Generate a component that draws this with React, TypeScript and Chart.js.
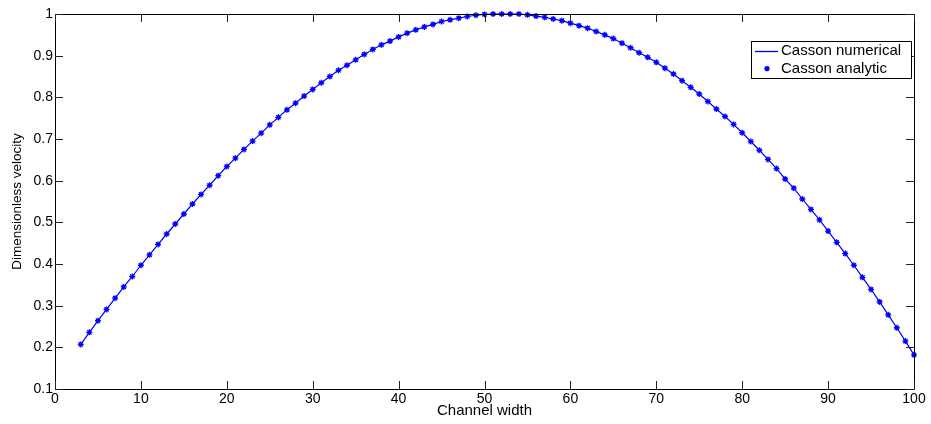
import React, { useEffect, useRef } from "react";
import { Chart, registerables } from "chart.js";

Chart.register(...registerables);

// Channel width positions (x)
const channelX = [
  3, 4, 5, 6, 7, 8, 9, 10, 11, 12, 13, 14, 15, 16, 17, 18, 19, 20, 21, 22,
  23, 24, 25, 26, 27, 28, 29, 30, 31, 32, 33, 34, 35, 36, 37, 38, 39, 40, 41, 42,
  43, 44, 45, 46, 47, 48, 49, 50, 51, 52, 53, 54, 55, 56, 57, 58, 59, 60, 61, 62,
  63, 64, 65, 66, 67, 68, 69, 70, 71, 72, 73, 74, 75, 76, 77, 78, 79, 80, 81, 82,
  83, 84, 85, 86, 87, 88, 89, 90, 91, 92, 93, 94, 95, 96, 97, 98, 99, 100,
];

// Casson numerical (solid line)
const numericalVelocity = [
  0.207, 0.236, 0.264, 0.291, 0.318, 0.345, 0.370, 0.397, 0.422, 0.447,
  0.472, 0.496, 0.520, 0.544, 0.567, 0.589, 0.612, 0.634, 0.654, 0.675,
  0.695, 0.714, 0.734, 0.752, 0.770, 0.786, 0.803, 0.819, 0.835, 0.850,
  0.865, 0.877, 0.890, 0.903, 0.915, 0.926, 0.935, 0.945, 0.954, 0.962,
  0.969, 0.975, 0.982, 0.986, 0.990, 0.994, 0.997, 0.999, 1.000, 1.000,
  1.000, 1.000, 0.998, 0.995, 0.992, 0.988, 0.984, 0.978, 0.972, 0.966,
  0.958, 0.950, 0.941, 0.930, 0.919, 0.907, 0.896, 0.884, 0.870, 0.856,
  0.840, 0.824, 0.808, 0.790, 0.772, 0.754, 0.735, 0.715, 0.694, 0.673,
  0.651, 0.629, 0.604, 0.582, 0.556, 0.531, 0.506, 0.479, 0.452, 0.425,
  0.397, 0.368, 0.339, 0.309, 0.278, 0.247, 0.215, 0.182,
];

// Casson analytic (star markers)
const analyticVelocity = [
  0.207, 0.236, 0.264, 0.291, 0.318, 0.345, 0.370, 0.397, 0.422, 0.447,
  0.472, 0.496, 0.520, 0.544, 0.567, 0.589, 0.612, 0.634, 0.654, 0.675,
  0.695, 0.714, 0.734, 0.752, 0.770, 0.786, 0.803, 0.819, 0.835, 0.850,
  0.865, 0.877, 0.890, 0.903, 0.915, 0.926, 0.935, 0.945, 0.954, 0.962,
  0.969, 0.975, 0.982, 0.986, 0.990, 0.994, 0.997, 0.999, 1.000, 1.000,
  1.000, 1.000, 0.998, 0.995, 0.992, 0.988, 0.984, 0.978, 0.972, 0.966,
  0.958, 0.950, 0.941, 0.930, 0.919, 0.907, 0.896, 0.884, 0.870, 0.856,
  0.840, 0.824, 0.808, 0.790, 0.772, 0.754, 0.735, 0.715, 0.694, 0.673,
  0.651, 0.629, 0.604, 0.582, 0.556, 0.531, 0.506, 0.479, 0.452, 0.425,
  0.397, 0.368, 0.339, 0.309, 0.278, 0.247, 0.215, 0.182,
];

const seriesLabels = ["Casson numerical", "Casson analytic"];
const xTitle = "Channel width";
const yTitle = "Dimensionless velocity";

const FONT = "'Liberation Sans', Arial, Helvetica, sans-serif";
const BLUE = "#0000ff";

const boxTicksPlugin = {
  id: "boxTicks",
  afterDraw(chart: any) {
    const { ctx, chartArea, scales } = chart;
    const { left, right, top, bottom } = chartArea;
    const len = 8;
    ctx.save();
    ctx.strokeStyle = "#000";
    ctx.lineWidth = 1;
    ctx.beginPath();
    ctx.rect(left + 0.5, top + 0.5, right - left, bottom - top);
    ctx.stroke();
    ctx.strokeStyle = "#222";
    ctx.beginPath();
    scales.x.ticks.forEach((t: any) => {
      const px = Math.round(scales.x.getPixelForValue(t.value)) + 0.5;
      ctx.moveTo(px, bottom);
      ctx.lineTo(px, bottom - len);
      ctx.moveTo(px, top);
      ctx.lineTo(px, top + len);
    });
    scales.y.ticks.forEach((t: any) => {
      const py = Math.round(scales.y.getPixelForValue(t.value)) + 0.5;
      ctx.moveTo(left, py);
      ctx.lineTo(left + len, py);
      ctx.moveTo(right, py);
      ctx.lineTo(right - len, py);
    });
    ctx.stroke();
    ctx.restore();
  },
};

const legendBoxPlugin = {
  id: "legendBox",
  afterDraw(chart: any) {
    const { ctx, chartArea } = chart;
    const ds = chart.data.datasets;
    const boxRight = chartArea.right - 3;
    const boxLeft = boxRight - 160;
    const boxTop = chartArea.top + 27;
    const boxH = 37;
    ctx.save();
    ctx.fillStyle = "#fff";
    ctx.fillRect(boxLeft, boxTop, boxRight - boxLeft, boxH);
    ctx.strokeStyle = "#000";
    ctx.lineWidth = 1;
    ctx.strokeRect(Math.round(boxLeft) + 0.5, Math.round(boxTop) + 0.5, boxRight - boxLeft, boxH);
    const row1 = boxTop + 9.5;
    const row2 = boxTop + 27.5;
    // line sample
    ctx.strokeStyle = BLUE;
    ctx.lineWidth = 1.3;
    ctx.beginPath();
    ctx.moveTo(boxLeft + 4, Math.round(row1) + 0.5);
    ctx.lineTo(boxLeft + 27, Math.round(row1) + 0.5);
    ctx.stroke();
    // marker sample
    ctx.strokeStyle = BLUE;
    ctx.lineWidth = 1.3;
    const cx = boxLeft + 16;
    const r = 2.8;
    ctx.beginPath();
    ctx.moveTo(cx - r, row2);
    ctx.lineTo(cx + r, row2);
    ctx.moveTo(cx, row2 - r);
    ctx.lineTo(cx, row2 + r);
    const d = r * Math.SQRT1_2;
    ctx.moveTo(cx - d, row2 - d);
    ctx.lineTo(cx + d, row2 + d);
    ctx.moveTo(cx - d, row2 + d);
    ctx.lineTo(cx + d, row2 - d);
    ctx.stroke();
    ctx.fillStyle = "#000";
    ctx.font = `15px ${FONT}`;
    ctx.textBaseline = "middle";
    ctx.textAlign = "left";
    ctx.fillText(ds[0].label, boxLeft + 30, row1 + 0.5);
    ctx.fillText(ds[1].label, boxLeft + 30, row2 + 0.5);
    ctx.restore();
  },
};

export default function App() {
  const canvasRef = useRef<HTMLCanvasElement | null>(null);

  useEffect(() => {
    const canvas = canvasRef.current;
    if (!canvas) return;
    const chart = new Chart(canvas, {
      type: "scatter",
      data: {
        datasets: [
          {
            label: seriesLabels[0],
            data: channelX.map((x, i) => ({ x, y: numericalVelocity[i] })),
            showLine: true,
            borderColor: BLUE,
            backgroundColor: BLUE,
            borderWidth: 1.2,
            pointRadius: 0,
            pointHoverRadius: 0,
            tension: 0,
            clip: false as any,
            order: 2,
          },
          {
            label: seriesLabels[1],
            data: channelX.map((x, i) => ({ x, y: analyticVelocity[i] })),
            showLine: false,
            pointStyle: "star",
            pointRadius: 3,
            pointBorderWidth: 1.3,
            pointBorderColor: BLUE,
            pointBackgroundColor: BLUE,
            borderColor: BLUE,
            backgroundColor: BLUE,
            clip: false as any,
            order: 1,
          },
        ],
      },
      options: {
        animation: false,
        responsive: false,
        maintainAspectRatio: false,
        devicePixelRatio: 1,
        layout: { padding: { top: 14, right: 17, left: 0, bottom: 0 } },
        plugins: {
          legend: { display: false },
          tooltip: { enabled: false },
        },
        events: [],
        scales: {
          x: {
            type: "linear",
            min: 0,
            max: 100,
            afterFit: (scale: any) => {
              scale.height = 35;
            },
            ticks: {
              stepSize: 10,
              color: "#000",
              padding: 2,
              font: { family: FONT, size: 14 },
              maxRotation: 0,
            },
            grid: { display: false, drawTicks: false },
            border: { display: false },
            title: {
              display: true,
              text: xTitle,
              color: "#000",
              font: { family: FONT, size: 15 },
              padding: { top: 0, bottom: 4 },
            },
          },
          y: {
            type: "linear",
            min: 0.1,
            max: 1,
            afterFit: (scale: any) => {
              scale.width = 55;
            },
            ticks: {
              stepSize: 0.1,
              color: "#000",
              padding: 2,
              font: { family: FONT, size: 14 },
              callback: (v: any) => String(Math.round(Number(v) * 10) / 10),
            },
            grid: { display: false, drawTicks: false },
            border: { display: false },
            title: {
              display: true,
              text: yTitle,
              color: "#000",
              font: { family: FONT, size: 13.5 },
              padding: { top: 9, bottom: 0 },
            },
          },
        },
      },
      plugins: [boxTicksPlugin, legendBoxPlugin],
    });
    return () => chart.destroy();
  }, []);

  return (
    <div style={{ position: "absolute", left: 0, top: 0, width: 931, height: 424, background: "#fff" }}>
      <canvas ref={canvasRef} width={931} height={424} style={{ width: 931, height: 424, display: "block" }} />
    </div>
  );
}
